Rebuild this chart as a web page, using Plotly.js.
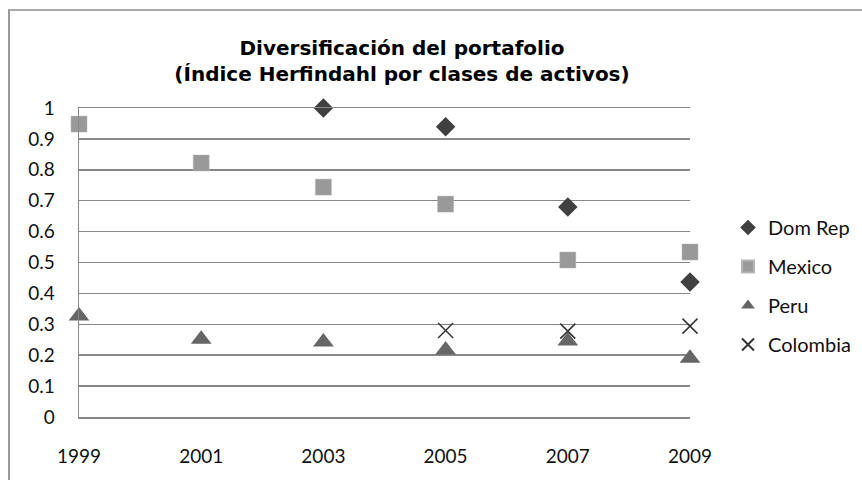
<!DOCTYPE html>
<html>
<head>
<meta charset="utf-8">
<script src="https://cdn.plot.ly/plotly-3.0.1.min.js"></script>
<style>
html,body{margin:0;padding:0;background:#fff;}
#wrap{position:relative;width:862px;height:480px;overflow:hidden;}
#chart{width:862px;height:480px;}
#frame{position:absolute;left:8px;top:9px;width:900px;height:500px;border-left:2px solid #999;border-top:2px solid #aaa;pointer-events:none;}
</style>
</head>
<body>
<div id="wrap"><div id="chart"></div><div id="frame"></div></div>
<script>
const years = [1999, 2001, 2003, 2005, 2007, 2009];
const domRep   = [null, null, 1.0, 0.939, 0.68, 0.437];
const mexico   = [0.948, 0.822, 0.744, 0.689, 0.508, 0.534];
const peru     = [0.327, 0.252, 0.243, 0.217, 0.246, 0.19];
const colombia = [null, null, null, 0.28, 0.278, 0.294];
const seriesNames = ['Dom Rep', 'Mexico', 'Peru', 'Colombia'];
const titleText = 'Diversificación del portafolio<br>(Índice Herfindahl por clases de activos)';

const fontFam = 'Lato, "Open Sans", sans-serif';
const traces = [
  {x: years, y: domRep, name: seriesNames[0], mode: 'markers', legendgroup: 'a', cliponaxis: false,
   marker: {symbol: 'diamond', size: 15, color: '#404040'}},
  {x: years, y: mexico, name: seriesNames[1], mode: 'markers', legendgroup: 'b', cliponaxis: false,
   marker: {symbol: 'square', size: 16, color: '#999999', line: {color: '#b5b5b5', width: 0.5}}},
  {x: years, y: peru, name: seriesNames[2], mode: 'markers', legendgroup: 'c', cliponaxis: false,
   marker: {symbol: 'triangle-up', size: 18, color: '#666666'}},
  {x: years, y: colombia, name: seriesNames[3], mode: 'markers', legendgroup: 'd', cliponaxis: false,
   marker: {symbol: 'x-thin-open', size: 15, color: '#333333', line: {color: '#333333', width: 1.5}}}
];

const layout = {
  width: 862, height: 480,
  margin: {l: 79, r: 172, t: 108, b: 63},
  paper_bgcolor: '#ffffff', plot_bgcolor: '#ffffff',
  font: {family: fontFam, size: 19, color: '#111'},
  title: {text: titleText, x: 402/862, xanchor: 'center', xref: 'container', y: 1 - 55/480, yref: 'container', yanchor: 'middle',
          font: {family: '"DejaVu Sans", sans-serif', size: 20, color: '#000', weight: 'bold'}},
  showlegend: true,
  legend: {xref: 'container', yref: 'container', x: 728/862, xanchor: 'left', y: 1 - 286/480, yanchor: 'middle',
           font: {family: fontFam, size: 20, color: '#111'}, itemsizing: 'constant',
           tracegroupgap: 10, itemwidth: 30, bgcolor: 'rgba(0,0,0,0)'},
  xaxis: {type: 'linear', range: [1999, 2009], tickvals: years, ticktext: years.map(String),
          showgrid: false, zeroline: false, showline: true, mirror: true, linecolor: '#888888', linewidth: 1.5, ticks: '',
          ticklabelstandoff: 22, tickfont: {family: fontFam, size: 19, color: '#111'}},
  yaxis: {range: [0, 1], dtick: 0.1, tick0: 0, showgrid: true, gridcolor: '#888888', gridwidth: 1.5,
          zeroline: false, showline: true, linecolor: '#888888', linewidth: 1.5, ticks: '',
          ticklabelstandoff: 19, tickfont: {family: fontFam, size: 19, color: '#111'}}
};

Plotly.newPlot('chart', traces, layout, {displayModeBar: false, staticPlot: true});
</script>
</body>
</html>
